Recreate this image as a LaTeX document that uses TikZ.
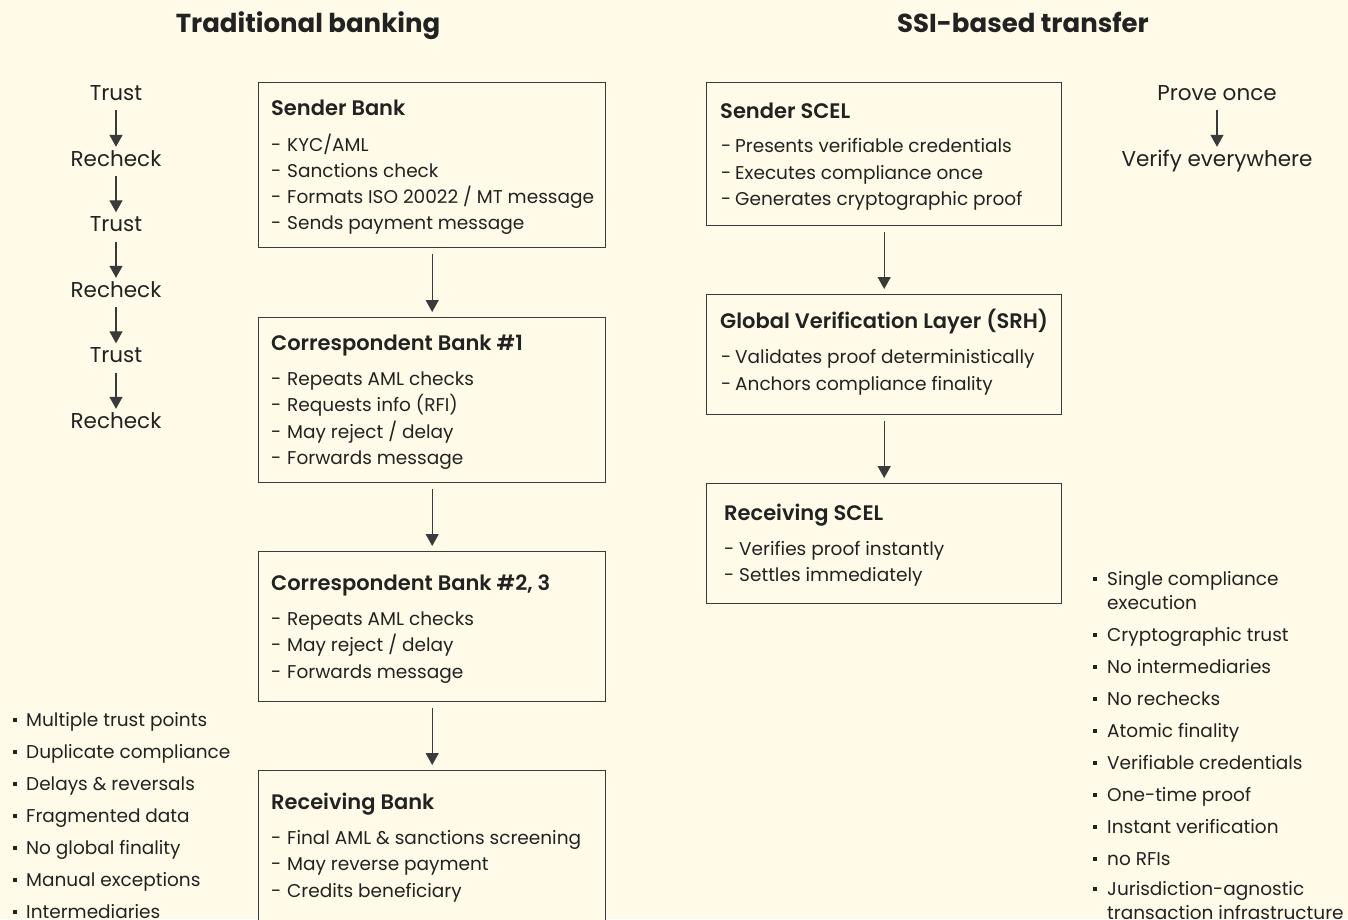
\documentclass[tikz,border=0pt]{standalone}
\usepackage{fontspec}
\setmainfont{Poppins}[BoldFont={Poppins SemiBold}]
\newfontfamily\titlefont{Poppins Bold}
\usetikzlibrary{arrows.meta}

\definecolor{paper}{HTML}{FFFBE8}
\definecolor{ink}{HTML}{222222}
\definecolor{frame}{HTML}{3A3A3A}

% small square bullet
\newcommand\sqbul{\rule[4.5pt]{4pt}{4pt}}

\tikzset{
  title/.style={font=\fontsize{26}{30}\titlefont, text=ink, inner sep=0pt, text height=19pt, text depth=0pt},
  panel/.style={draw=frame, line width=1.4pt, fill=paper, anchor=north west, inner sep=0pt},
  head/.style={anchor=west, font=\fontsize{21}{25}\selectfont\bfseries, text=ink, inner sep=0pt, text height=15pt, text depth=0pt},
  entry/.style={anchor=west, font=\fontsize{18.5}{24}\selectfont, text=ink, inner sep=0pt, text height=13pt, text depth=0pt},
  word/.style={font=\fontsize{21.5}{25}\selectfont, text=ink, inner sep=0pt, text height=15pt, text depth=0pt},
  flow/.style={draw=frame, line width=1.3pt, -{Triangle[width=13pt,length=12pt]}, shorten <=6pt, shorten >=5pt},
  small flow/.style={flow, shorten <=10pt, shorten >=4pt},
  bullet/.style={entry},
  % two-line bullet: placed by the baseline of its last line
  bullet2/.style={anchor=base west, font=\fontsize{18.5}{24}\selectfont, text=ink, inner sep=0pt, align=left},
}

\begin{document}
\begin{tikzpicture}[x=1pt,y=-1pt]
\clip (0,0) rectangle (1348,919);
\fill[paper] (0,0) rectangle (1348,919);

% column titles
\node[title] (ltitle) at (308,22.5) {Traditional banking};
\node[title] (rtitle) at (1023,22.5) {SSI-based transfer};

% ---------- traditional banking chain ----------
\node[panel, minimum width=347pt, minimum height=165pt] (sb)  at (258,82)  {};
\node[panel, minimum width=347pt, minimum height=165pt] (cb1) at (258,317) {};
\node[panel, minimum width=347pt, minimum height=150pt] (cb2) at (258,551) {};
\node[panel, minimum width=347pt, minimum height=175pt] (rb)  at (258,770) {};

\node[head] (sbh) at (271,107.5) {Sender Bank};
\node[entry] (sb1) at (271,144.5) {\makebox[16pt][l]{-}KYC/AML};
\node[entry] (sb2) at (271,170.5) {\makebox[16pt][l]{-}Sanctions check};
\node[entry] (sb3) at (271,197)   {\makebox[16pt][l]{-}Formats ISO 20022 / MT message};
\node[entry] (sb4) at (271,223)   {\makebox[16pt][l]{-}Sends payment message};

\node[head] (c1h) at (271,342.5) {Correspondent Bank \#1};
\node[entry] (c11) at (271,378.5) {\makebox[16pt][l]{-}Repeats AML checks};
\node[entry] (c12) at (271,405)   {\makebox[16pt][l]{-}Requests info (RFI)};
\node[entry] (c13) at (271,431.5) {\makebox[16pt][l]{-}May reject / delay};
\node[entry] (c14) at (271,458)   {\makebox[16pt][l]{-}Forwards message};

\node[head] (c2h) at (271,582.5) {Correspondent Bank \#2, 3};
\node[entry] (c21) at (271,618.5) {\makebox[16pt][l]{-}Repeats AML checks};
\node[entry] (c22) at (271,645)   {\makebox[16pt][l]{-}May reject / delay};
\node[entry] (c23) at (271,671.5) {\makebox[16pt][l]{-}Forwards message};

\node[head] (rbh) at (271,801.5) {Receiving Bank};
\node[entry] (rb1) at (271,837.5) {\makebox[16pt][l]{-}Final AML \& sanctions screening};
\node[entry] (rb2) at (271,864)   {\makebox[16pt][l]{-}May reverse payment};
\node[entry] (rb3) at (271,890.5) {\makebox[16pt][l]{-}Credits beneficiary};

\draw[flow] (sb) -- (cb1);
\draw[flow] (cb1) -- (cb2);
\draw[flow] (cb2) -- (rb);

% trust / recheck ladder
\node[word] (w1) at (116,92.5)  {Trust};
\node[word] (w2) at (116,158.5) {Recheck};
\node[word] (w3) at (116,224)   {Trust};
\node[word] (w4) at (116,289.5) {Recheck};
\node[word] (w5) at (116,355)   {Trust};
\node[word] (w6) at (116,420.5) {Recheck};
\foreach \a/\b in {w1/w2,w2/w3,w3/w4,w4/w5,w5/w6}
  \draw[small flow] (\a) -- (\b);

% drawbacks
\foreach \t [count=\i from 0] in {Multiple trust points, Duplicate compliance,
    Delays \& reversals, Fragmented data, No global finality,
    Manual exceptions, Intermediaries}
  \node[bullet] (lb\i) at (13,719.5+32*\i) {\makebox[13pt][l]{\sqbul}\t};

% ---------- SSI-based chain ----------
\node[panel, minimum width=355pt, minimum height=143pt] (ss) at (706,82)  {};
\node[panel, minimum width=355pt, minimum height=120pt] (gv) at (706,294) {};
\node[panel, minimum width=355pt, minimum height=120pt] (rs) at (706,483) {};

\node[head] (ssh) at (720,110.5) {Sender SCEL};
\node[entry] (ss1) at (721,146)   {\makebox[14pt][l]{-}Presents verifiable credentials};
\node[entry] (ss2) at (721,172.5) {\makebox[14pt][l]{-}Executes compliance once};
\node[entry] (ss3) at (721,199)   {\makebox[14pt][l]{-}Generates cryptographic proof};

\node[head] (gvh) at (720,320.5) {Global Verification Layer (SRH)};
\node[entry] (gv1) at (721,357)   {\makebox[14pt][l]{-}Validates proof deterministically};
\node[entry] (gv2) at (721,383.5) {\makebox[14pt][l]{-}Anchors compliance finality};

\node[head] (rsh) at (724,512.5) {Receiving SCEL};
\node[entry] (rs1) at (724,548.5) {\makebox[15pt][l]{-}Verifies proof instantly};
\node[entry] (rs2) at (724,575)   {\makebox[15pt][l]{-}Settles immediately};

\draw[flow] (ss) -- (gv);
\draw[flow] (gv) -- (rs);

% prove once / verify everywhere
\node[word] (p1) at (1217,92.5)  {Prove once};
\node[word] (p2) at (1217,158.5) {Verify everywhere};
\draw[small flow] (p1) -- (p2);

% benefits
\node[bullet2] (rb0) at (1093,609) {\makebox[14pt][l]{\sqbul}Single compliance\\\hspace*{14pt}execution};
\foreach \t [count=\i from 1] in {Cryptographic trust, No intermediaries,
    No rechecks, Atomic finality, Verifiable credentials, One-time proof,
    Instant verification, no RFIs}
  \node[bullet] (rbl\i) at (1093,602.5+32*\i) {\makebox[14pt][l]{\sqbul}\t};
\node[bullet2] (rbl9) at (1093,919) {\makebox[14pt][l]{\sqbul}Jurisdiction-agnostic\\\hspace*{14pt}transaction infrastructure};
\end{tikzpicture}
\end{document}
